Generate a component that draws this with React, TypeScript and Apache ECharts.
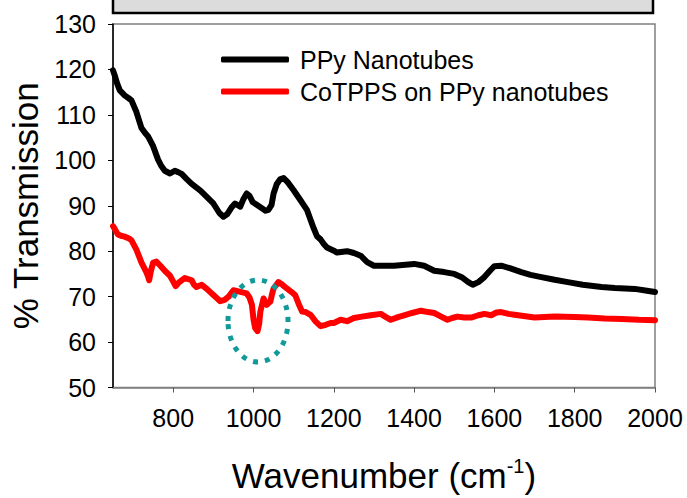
import React, { useEffect, useRef } from "react";
import * as echarts from "echarts";

const xTickValues = [800, 1000, 1200, 1400, 1600, 1800, 2000];
const seriesNames = ["PPy Nanotubes", "CoTPPS on PPy nanotubes"];

const ppyNanotubes: number[][] = [
  [650, 119.8], [655, 118.5], [660, 117], [667, 115.4], [679, 114.3], [690, 113.6], [696, 113.2],
  [708, 110.7], [721, 107.1], [730, 106], [737, 105.3], [750, 103.1], [762, 100.2], [770, 98.8],
  [779, 97.7], [792, 97.1], [804, 97.7], [812, 97.4], [821, 97.0], [833, 95.9], [846, 94.8],
  [867, 93.4], [883, 92], [900, 90.5], [915, 88.4], [925, 87.6], [935, 88.2], [945, 89.6],
  [954, 90.5], [967, 89.8], [975, 91.5], [983, 92.7], [990, 92.2], [998, 90.8], [1008, 90.2],
  [1020, 89.5], [1030, 88.9], [1037, 89.1], [1045, 90.2], [1050, 92.7], [1058, 94.8], [1066, 95.8],
  [1075, 96.1], [1085, 95.2], [1100, 93.4], [1117, 91.2], [1133, 89.1], [1142, 86.9], [1150, 85],
  [1158, 83.3], [1167, 82.6], [1175, 81.6], [1183, 80.8], [1200, 80.1], [1208, 79.7], [1233, 80.0],
  [1250, 79.6], [1267, 79], [1283, 77.6], [1300, 76.8], [1350, 76.8], [1400, 77.2], [1425, 76.8],
  [1450, 75.7], [1475, 75.4], [1500, 75], [1520, 74.2], [1535, 73.2], [1546, 72.6], [1560, 73.2],
  [1575, 74.3], [1590, 75.8], [1600, 76.7], [1617, 76.8], [1640, 76.2], [1667, 75.4], [1690, 74.8],
  [1717, 74.3], [1750, 73.7], [1783, 73.2], [1820, 72.6], [1867, 72.1], [1900, 71.9], [1950, 71.7],
  [1980, 71.3], [2000, 71.0],
];

const cotppsOnPpy: number[][] = [
  [650, 85.5], [655, 84.8], [662, 83.7], [670, 83.4], [679, 83.2], [690, 82.8], [696, 82.4],
  [708, 80.4], [721, 77.5], [733, 75.4], [737, 74.5], [740, 73.6], [744, 75.5], [750, 77.5],
  [758, 77.7], [768, 76.8], [779, 75.7], [792, 74.6], [800, 73.3], [806, 72.3], [815, 73.2],
  [829, 74.1], [846, 73.6], [852, 72.6], [858, 72.1], [871, 72.6], [885, 71.6], [896, 70.7],
  [907, 69.8], [917, 69.0], [928, 69.3], [938, 70.0], [950, 71.4], [965, 71.1], [983, 70.7],
  [990, 69.8], [996, 68.2], [1000, 65], [1004, 63.1], [1010, 62.4], [1014, 64], [1017, 66.7],
  [1025, 69.6], [1033, 68.2], [1042, 68.9], [1046, 70.5], [1050, 71.8], [1062, 73.2], [1072, 72.6],
  [1083, 71.8], [1095, 71], [1104, 70.3], [1112, 68.5], [1121, 66.7], [1130, 66.6], [1142, 66.0],
  [1155, 64.5], [1167, 63.5], [1180, 63.8], [1192, 64.2], [1200, 64.2], [1217, 64.9], [1233, 64.6],
  [1250, 65.3], [1270, 65.6], [1292, 65.9], [1317, 66.2], [1330, 65.5], [1342, 64.9], [1360, 65.5],
  [1375, 65.9], [1395, 66.4], [1417, 66.9], [1435, 66.6], [1450, 66.4], [1465, 65.7], [1483, 64.9],
  [1495, 65.3], [1508, 65.6], [1525, 65.4], [1542, 65.4], [1560, 65.9], [1575, 66.2], [1592, 65.9],
  [1605, 66.5], [1617, 66.6], [1635, 66.2], [1650, 66.0], [1700, 65.4], [1750, 65.6], [1800, 65.5],
  [1833, 65.4], [1875, 65.2], [1917, 65.1], [1960, 64.9], [2000, 64.8],
];

const FONT = "'Liberation Sans', Arial, sans-serif";

export default function App() {
  const ref = useRef<HTMLDivElement>(null);
  useEffect(() => {
    if (!ref.current) return;
    const chart = echarts.init(ref.current, undefined, { renderer: "svg" });
    chart.setOption({
      animation: false,
      backgroundColor: "#fff",
      textStyle: { fontFamily: FONT, color: "#000" },
      grid: {
        left: 113, top: 24, width: 542, height: 370,
        show: true, borderColor: "#808080", borderWidth: 1.5, backgroundColor: "transparent",
      },
      legend: {
        orient: "vertical",
        left: 216, top: 42,
        itemWidth: 68, itemHeight: 6, itemGap: 7,
        icon: "roundRect",
        textStyle: { fontSize: 25, fontFamily: FONT, color: "#000", padding: [0, 0, 0, 6] },
        data: seriesNames,
      },
      xAxis: {
        type: "value", min: 650, max: 2000,
        name: "{a|Wavenumber (cm}{s|-1}{a|)}",
        nameLocation: "middle", nameGap: 68,
        nameTextStyle: {
          rich: {
            a: { fontSize: 35, fontFamily: FONT, color: "#000" },
            s: { fontSize: 20, fontFamily: FONT, color: "#000", padding: [0, 0, 20, 0] },
          },
        },
        axisLine: { lineStyle: { color: "#808080", width: 1.5 } },
        axisTick: { show: true, length: 5, lineStyle: { color: "#555" }, customValues: xTickValues },
        axisLabel: {
          fontSize: 25, color: "#000", margin: 18, customValues: xTickValues,
          formatter: (v: number) => String(v),
        },
        splitLine: { show: false },
      },
      yAxis: {
        type: "value", min: 50, max: 130, interval: 10,
        name: "% Transmission", nameLocation: "middle", nameGap: 70, nameRotate: 90,
        nameTextStyle: { fontSize: 35, fontFamily: FONT, color: "#000" },
        axisLine: { lineStyle: { color: "#000", width: 1.5 } },
        axisTick: { show: true, length: 5, lineStyle: { color: "#000" } },
        axisLabel: { fontSize: 25, color: "#000", margin: 17, formatter: (v: number) => String(v) },
        splitLine: { show: false },
      },
      series: [
        {
          name: seriesNames[0], type: "line", data: ppyNanotubes, showSymbol: false, symbol: "none",
          lineStyle: { color: "#000", width: 6, cap: "round", join: "round" }, itemStyle: { color: "#000" },
        },
        {
          name: seriesNames[1], type: "line", data: cotppsOnPpy, showSymbol: false, symbol: "none",
          lineStyle: { color: "#ff0000", width: 6, cap: "round", join: "round" }, itemStyle: { color: "#ff0000" },
        },
      ],
      graphic: [
        {
          type: "rect", shape: { x: 113, y: -10, width: 540, height: 23 },
          style: { fill: "#dcdcdc", stroke: "#000", lineWidth: 2.5 },
        },
        {
          type: "ellipse", shape: { cx: 258, cy: 321, rx: 30, ry: 41 },
          style: { fill: "none", stroke: "#12999a", lineWidth: 5, lineDash: [5, 7] },
          z: 100,
        },
      ],
    });
    return () => chart.dispose();
  }, []);
  return <div ref={ref} style={{ position: "absolute", left: 0, top: 0, width: 687, height: 498 }} />;
}
